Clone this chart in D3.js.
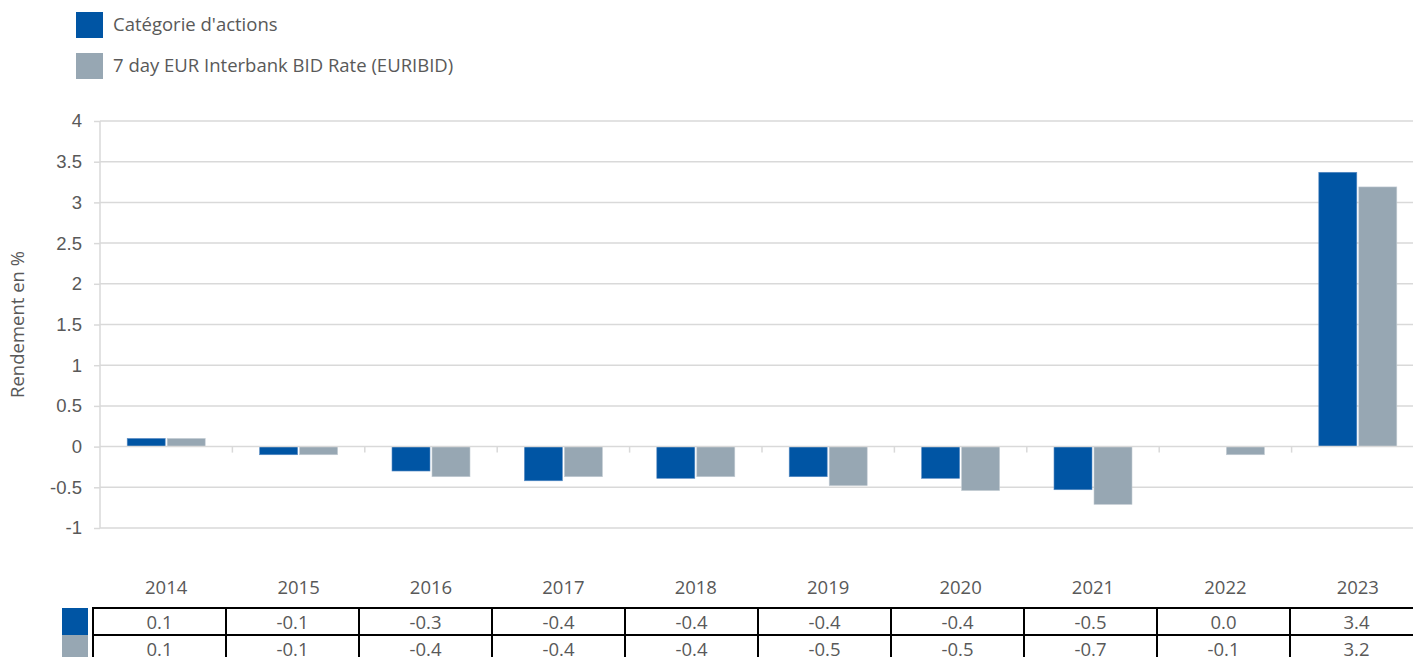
<!DOCTYPE html>
<html>
<head>
<meta charset="utf-8">
<script src="https://cdn.jsdelivr.net/npm/d3@7"></script>
<style>
  body { margin: 0; background: #fff; }
  svg { display: block; font-family: "Open Sans", sans-serif; }
</style>
</head>
<body>
<div id="chart"></div>
<script>
// data
var years = ["2014","2015","2016","2017","2018","2019","2020","2021","2022","2023"];
var fundValues = [0.1, -0.1, -0.3, -0.42, -0.39, -0.37, -0.39, -0.53, 0.0, 3.37];
var euribidValues = [0.1, -0.1, -0.37, -0.37, -0.37, -0.48, -0.54, -0.71, -0.1, 3.19];
var seriesNames = ["Catégorie d'actions", "7 day EUR Interbank BID Rate (EURIBID)"];
var yTicks = [-1, -0.5, 0, 0.5, 1, 1.5, 2, 2.5, 3, 3.5, 4];

var colors = ["#0055a4", "#97a7b3"];
var textColor = "#595959";
var gridColor = "#d9d9d9";
var fontSize = "18.5px";

var W = 1413, H = 657;

var svg = d3.select("#chart").append("svg")
    .attr("width", W)
    .attr("height", H);

var x = d3.scaleBand().domain(years).range([100, 1424]);
var y = d3.scaleLinear().domain([-1, 4]).range([528, 121]);
var xs = d3.scaleBand().domain([0, 1]).range([0, 78]).paddingInner(0.05);

// gridlines
svg.append("g").selectAll("line")
    .data(yTicks.filter(function(d) { return d != 0; }))
    .enter().append("line")
    .attr("x1", 100).attr("x2", W)
    .attr("y1", function(d) { return y(d); })
    .attr("y2", function(d) { return y(d); })
    .attr("stroke", gridColor).attr("stroke-width", 1.5);

// y axis
var yAxis = svg.append("g")
    .attr("transform", "translate(100,0)")
    .call(d3.axisLeft(y).tickValues(yTicks).tickSize(6).tickPadding(12)
        .tickFormat(function(d) { return String(d); }));
yAxis.select(".domain").attr("stroke", gridColor).attr("stroke-width", 1.5).attr("d", "M0," + y(4) + "V" + y(-1));
yAxis.selectAll(".tick line").attr("stroke", gridColor).attr("stroke-width", 1.5);
yAxis.selectAll(".tick text").attr("fill", textColor).style("font-size", fontSize);

svg.append("text")
    .attr("transform", "translate(24," + (y(1.5)) + ") rotate(-90)")
    .attr("text-anchor", "middle")
    .attr("fill", textColor)
    .style("font-size", fontSize)
    .text("Rendement en %");

// bars
var groups = svg.append("g").selectAll("g")
    .data(years)
    .enter().append("g")
    .attr("transform", function(d) { return "translate(" + (x(d) + (x.bandwidth() - 78) / 2) + ",0)"; });

groups.selectAll("rect")
    .data(function(d, i) { return [fundValues[i], euribidValues[i]]; })
    .enter().append("rect")
    .attr("x", function(d, j) { return xs(j); })
    .attr("width", xs.bandwidth())
    .attr("y", function(d) { return y(Math.max(0, d)); })
    .attr("height", function(d) { return Math.abs(y(d) - y(0)); })
    .attr("fill", function(d, j) { return colors[j]; })
    .attr("stroke", function(d, j) { return j == 0 ? "#5a8cc4" : "#c3ccd3"; })
    .attr("stroke-width", 0.6);

// zero line with category ticks
svg.append("line")
    .attr("x1", 100).attr("x2", W)
    .attr("y1", y(0)).attr("y2", y(0))
    .attr("stroke", gridColor).attr("stroke-width", 1.5);
svg.append("g").selectAll("line")
    .data(years.slice(1))
    .enter().append("line")
    .attr("x1", function(d) { return x(d); })
    .attr("x2", function(d) { return x(d); })
    .attr("y1", y(0)).attr("y2", y(0) + 6)
    .attr("stroke", gridColor).attr("stroke-width", 1.5);

// category labels
svg.append("g").selectAll("text")
    .data(years)
    .enter().append("text")
    .attr("x", function(d) { return x(d) + x.bandwidth() / 2; })
    .attr("y", 588)
    .attr("dy", "0.35em")
    .attr("text-anchor", "middle")
    .attr("fill", textColor)
    .style("font-size", fontSize)
    .text(function(d) { return d; });

// legend
var legend = svg.append("g").selectAll("g")
    .data(seriesNames)
    .enter().append("g")
    .attr("transform", function(d, i) { return "translate(76," + (12 + i * 41) + ")"; });
legend.append("rect")
    .attr("width", 27).attr("height", 26)
    .attr("fill", function(d, i) { return colors[i]; });
legend.append("text")
    .attr("x", 37).attr("y", 13)
    .attr("dy", "0.35em")
    .attr("fill", textColor)
    .style("font-size", fontSize)
    .text(function(d) { return d; });

// data table
var tx = d3.scaleBand().domain(years).range([93, 1423]);
var rowTop = 608, rowH = 27;
var rows = [fundValues, euribidValues];

rows.forEach(function(vals, r) {
    svg.append("rect")
        .attr("x", 62).attr("y", rowTop + r * rowH)
        .attr("width", 26).attr("height", rowH)
        .attr("fill", colors[r]);
    svg.append("g").selectAll("text")
        .data(vals)
        .enter().append("text")
        .attr("x", function(d, i) { return tx(years[i]) + tx.bandwidth() / 2; })
        .attr("y", rowTop + r * rowH + rowH / 2 + 1)
        .attr("dy", "0.35em")
        .attr("text-anchor", "middle")
        .attr("fill", textColor)
        .style("font-size", fontSize)
        .text(function(d) { return d.toFixed(1); });
});

var table = svg.append("g").attr("stroke", "#000").attr("stroke-width", 2);
[0, 1, 2].forEach(function(r) {
    table.append("line")
        .attr("x1", 92).attr("x2", 1423)
        .attr("y1", rowTop + r * rowH).attr("y2", rowTop + r * rowH);
});
table.selectAll(".vline")
    .data(years.concat(["end"]))
    .enter().append("line")
    .attr("class", "vline")
    .attr("x1", function(d) { return d == "end" ? 1423 : tx(d); })
    .attr("x2", function(d) { return d == "end" ? 1423 : tx(d); })
    .attr("y1", rowTop).attr("y2", rowTop + 2 * rowH);
</script>
</body>
</html>
